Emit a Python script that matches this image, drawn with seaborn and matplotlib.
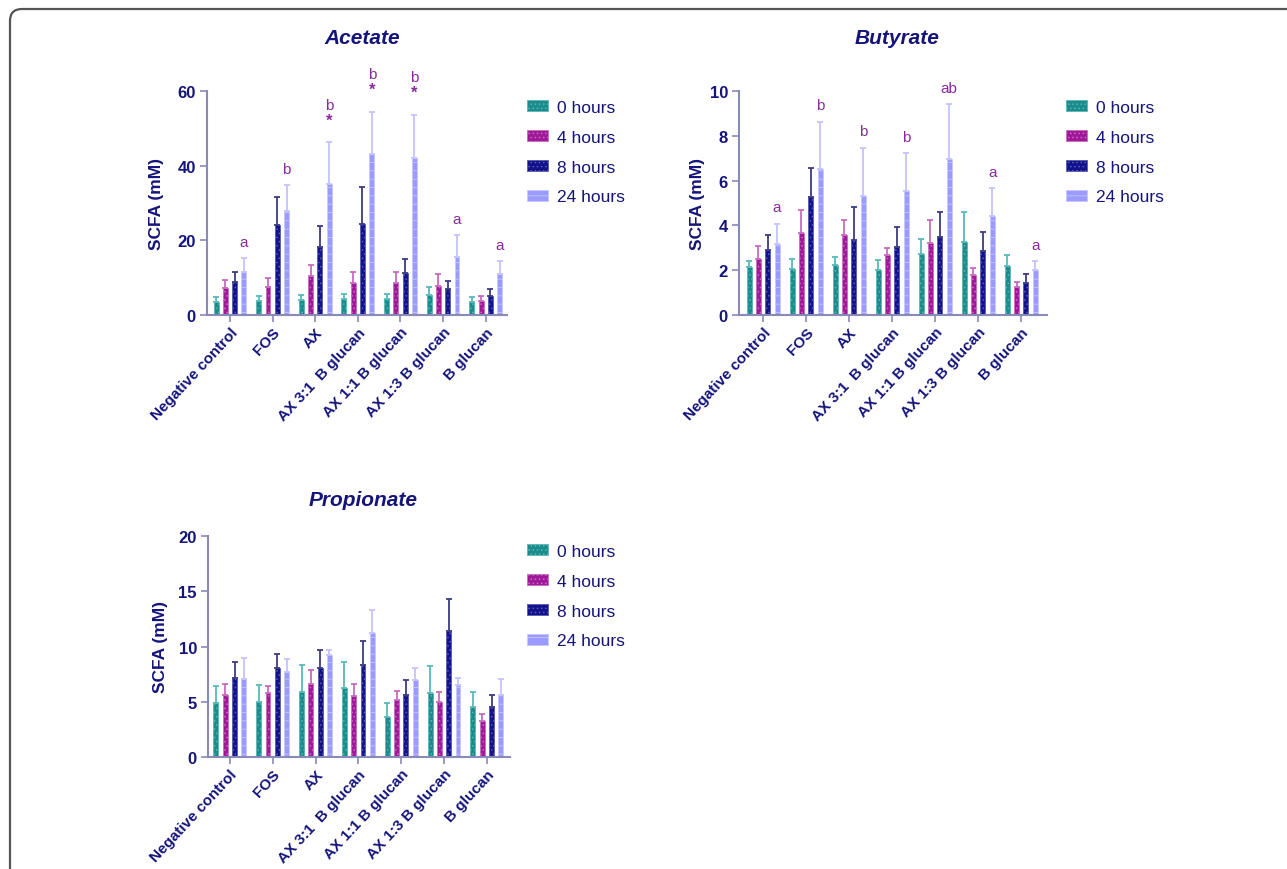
import matplotlib
matplotlib.use("Agg")
import matplotlib.pyplot as plt
import matplotlib.patches as mpatches
import matplotlib.transforms as mtransforms
from matplotlib.container import BarContainer
import numpy as np
import pandas as pd
import seaborn as sns

# ---------------- data ----------------
categories = ["Negative control", "FOS", "AX", "AX 3:1  B glucan",
              "AX 1:1 B glucan", "AX 1:3 B glucan", "B glucan"]
hours = ["0 hours", "4 hours", "8 hours", "24 hours"]

acetate_mean = [
    [3.6, 3.7, 4.1, 4.4, 4.4, 5.4, 3.4],
    [7.3, 7.5, 10.4, 8.6, 8.6, 7.8, 3.7],
    [8.9, 24.0, 18.3, 24.5, 11.2, 6.9, 5.2],
    [11.4, 27.8, 35.1, 43.1, 42.0, 15.6, 11.0],
]
acetate_sd = [
    [1.3, 1.5, 1.3, 1.3, 1.3, 2.2, 1.3],
    [2.1, 2.3, 3.0, 2.8, 2.8, 3.3, 1.4],
    [2.7, 7.6, 5.5, 9.7, 3.8, 2.2, 1.8],
    [3.8, 6.9, 11.2, 11.3, 11.6, 5.7, 3.4],
]
acetate_letters = ["a", "b", "b", "b", "b", "a", "a"]
acetate_stars = ["", "", "*", "*", "*", "", ""]

butyrate_mean = [
    [2.15, 2.05, 2.21, 1.99, 2.73, 3.24, 2.17],
    [2.51, 3.67, 3.57, 2.66, 3.22, 1.80, 1.23],
    [2.90, 5.26, 3.33, 3.05, 3.48, 2.87, 1.43],
    [3.16, 6.54, 5.32, 5.54, 6.95, 4.41, 2.02],
]
butyrate_sd = [
    [0.27, 0.46, 0.39, 0.48, 0.67, 1.34, 0.50],
    [0.58, 1.00, 0.66, 0.31, 1.00, 0.31, 0.23],
    [0.68, 1.29, 1.47, 0.89, 1.13, 0.83, 0.38],
    [0.91, 2.08, 2.14, 1.67, 2.45, 1.24, 0.37],
]
butyrate_letters = ["a", "b", "b", "b", "ab", "a", "a"]
butyrate_stars = ["", "", "", "", "", "", ""]

propionate_mean = [
    [4.92, 5.00, 5.91, 6.24, 3.65, 5.76, 4.52],
    [5.64, 5.82, 6.64, 5.52, 5.16, 4.98, 3.26],
    [7.15, 8.08, 8.08, 8.36, 5.64, 11.40, 4.52],
    [7.03, 7.69, 9.23, 11.22, 7.00, 6.49, 5.60],
]
propionate_sd = [
    [1.51, 1.55, 2.39, 2.33, 1.24, 2.51, 1.36],
    [0.96, 0.61, 1.26, 1.06, 0.81, 0.93, 0.63],
    [1.45, 1.24, 1.63, 2.11, 1.36, 2.90, 1.12],
    [1.93, 1.18, 0.48, 2.08, 1.02, 0.69, 1.50],
]

acetate_ticks = [0, 20, 40, 60]
butyrate_ticks = [0, 2, 4, 6, 8, 10]
propionate_ticks = [0, 5, 10, 15, 20]

# ---------------- style ----------------
bar_colors = ["#1a8c8c", "#a0189a", "#12128c", "#9a9aff"]
edge_colors = ["#5cb5b5", "#c86cc0", "#5a5ab0", "#c8c8ff"]
err_colors = ["#5cb8b8", "#c76cbf", "#3c3c80", "#c4c4ff"]
navy = "#14147a"
spine_col = "#8a8ab8"
annot_col = "#8a2a9e"

sns.set_style("white")
plt.rcParams["font.family"] = ["Liberation Sans", "DejaVu Sans"]
plt.rcParams["hatch.linewidth"] = 0.6

W, H = 1287, 870
fig = plt.figure(figsize=(W / 100, H / 100), dpi=100)


def fx(px):
    return px / W


def fy(py):
    return (H - py) / H


def make_panel(left, right, bottom, top, xlim, means, sds, yticks, title,
               title_xy, ylabel_x, legend_xy, letters=None, stars=None):
    ax = fig.add_axes([fx(left), fy(bottom), fx(right - left),
                       (bottom - top) / H])
    rows = []
    for hi, h in enumerate(hours):
        for ci, c in enumerate(categories):
            rows.append({"substrate": c, "time": h, "value": means[hi][ci]})
    df = pd.DataFrame(rows)
    sns.barplot(data=df, x="substrate", y="value", hue="time",
                order=categories, hue_order=hours, palette=bar_colors,
                width=0.87, gap=0.47, errorbar=None, legend=False,
                saturation=1, ax=ax)
    bar_conts = [c for c in ax.containers if isinstance(c, BarContainer)]
    tops = np.zeros((len(hours), len(categories)))
    xs = np.zeros((len(hours), len(categories)))
    for hi, cont in enumerate(bar_conts):
        for ci, bar in enumerate(cont.patches):
            bar.set_edgecolor(edge_colors[hi])
            bar.set_linewidth(0.6)
            bar.set_hatch("...." if hi < 3 else "--")
            xs[hi, ci] = bar.get_x() + bar.get_width() / 2
            tops[hi, ci] = means[hi][ci] + sds[hi][ci]
    for hi in range(len(hours)):
        ax.errorbar(xs[hi], means[hi],
                    yerr=[np.zeros(len(categories)), sds[hi]],
                    fmt="none", ecolor=err_colors[hi], elinewidth=1.3,
                    capsize=2.5, capthick=1.3, zorder=1)
    ax.set_xlim(*xlim)
    ax.set_ylim(yticks[0], yticks[-1])
    ax.set_yticks(yticks)
    ax.set_xticks(range(len(categories)))
    ax.set_xticklabels(categories, rotation=47, ha="right", va="top",
                       rotation_mode="anchor", fontsize=11,
                       fontweight="bold", color=navy)
    ax.tick_params(axis="y", labelsize=12, labelcolor=navy, length=5,
                   color=spine_col, width=1.2, left=True, pad=3)
    ax.tick_params(axis="x", length=5, color=spine_col, width=1.2,
                   bottom=True, pad=2)
    for lab in ax.get_yticklabels():
        lab.set_fontweight("bold")
    for s in ["top", "right"]:
        ax.spines[s].set_visible(False)
    for s in ["left", "bottom"]:
        ax.spines[s].set_color(spine_col)
        ax.spines[s].set_linewidth(1.5)
    ax.set_xlabel("")
    ax.set_ylabel("")
    ax.grid(False)
    fig.text(fx(ylabel_x), fy((top + bottom) / 2), "SCFA (mM)",
             rotation=90, ha="center", va="center", fontsize=12.5,
             fontweight="bold", color=navy)
    fig.text(fx(title_xy[0]), fy(title_xy[1]), title, ha="center",
             va="center", fontsize=15, fontweight="bold", style="italic",
             color=navy)
    # significance annotations on the 24 h bars
    if letters is not None:
        for ci in range(len(categories)):
            x = xs[3, ci]
            y = tops[3, ci]
            if stars[ci]:
                ax.annotate(stars[ci], (x, y), xytext=(0, 16),
                            textcoords="offset points", ha="center",
                            va="center", fontsize=12, fontweight="bold",
                            color=annot_col, annotation_clip=False)
                ax.annotate(letters[ci], (x, y), xytext=(0, 27),
                            textcoords="offset points", ha="center",
                            va="center", fontsize=11, color=annot_col,
                            annotation_clip=False)
            else:
                ax.annotate(letters[ci], (x, y), xytext=(0, 12),
                            textcoords="offset points", ha="center",
                            va="center", fontsize=11, color=annot_col,
                            annotation_clip=False)
    handles = [mpatches.Patch(facecolor=bar_colors[i],
                              edgecolor=edge_colors[i],
                              hatch="...." if i < 3 else "--",
                              linewidth=0.6) for i in range(4)]
    fig.legend(handles, hours, loc="upper left",
               bbox_to_anchor=(fx(legend_xy[0]), fy(legend_xy[1])),
               bbox_transform=fig.transFigure, frameon=False,
               fontsize=12.5, labelcolor=navy, handlelength=1.2,
               handleheight=0.6, handletextpad=0.5, labelspacing=0.85,
               borderpad=0, borderaxespad=0)
    return ax


make_panel(207, 507, 316, 92, (-0.54, 6.5), acetate_mean, acetate_sd,
           acetate_ticks, "Acetate", (362, 38), 157, (527, 101),
           acetate_letters, acetate_stars)
make_panel(739, 1047, 316, 92, (-0.56, 6.6), butyrate_mean, butyrate_sd,
           butyrate_ticks, "Butyrate", (897, 38), 697, (1066, 101),
           butyrate_letters, butyrate_stars)
make_panel(208, 510, 758, 537, (-0.51, 6.54), propionate_mean,
           propionate_sd, propionate_ticks, "Propionate", (363, 501), 160,
           (527, 545))

# outer rounded frame (partly outside the canvas, as in the reference)
frame = mpatches.FancyBboxPatch((10, -60), 1400, 920,
                                boxstyle="round,pad=0,rounding_size=12",
                                transform=mtransforms.IdentityTransform(),
                                facecolor="none", edgecolor="#555555",
                                linewidth=1.6)
fig.patches.append(frame)

fig.savefig("out.png", dpi=100)
